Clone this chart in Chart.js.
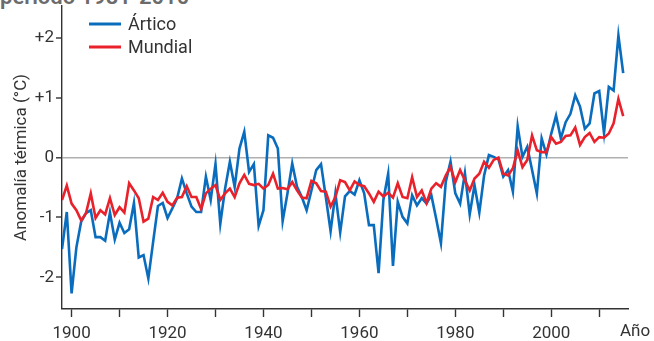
<!DOCTYPE html>
<html>
<head>
<meta charset="utf-8">
<script src="https://cdn.jsdelivr.net/npm/chart.js@4.4.1/dist/chart.umd.min.js"></script>
<style>
  html, body { margin: 0; padding: 0; background: #fff; }
  #wrap { position: relative; width: 654px; height: 341px; overflow: hidden; }
  #title { position: absolute; left: 0; top: -14px; font-family: Roboto, sans-serif; font-weight: 600; font-size: 22px; line-height: 22px; color: #6b6b6b; white-space: nowrap; }
  canvas { position: absolute; left: 0; top: 0; }
</style>
</head>
<body>
<div id="wrap">
  <div id="title">periodo 1981-2010</div>
  <canvas id="c" width="654" height="341"></canvas>
</div>
<script>
const years = [];
for (let y = 1898; y <= 2015; y++) years.push(y);

const artico = [
  -1.53, -0.91,
  -2.27, -1.50, -1.07, -0.93, -0.88, -1.33, -1.33, -1.39, -0.92, -1.37,
  -1.09, -1.26, -1.20, -0.76, -1.67, -1.63, -2.02, -1.41, -0.81, -0.76,
  -1.01, -0.85, -0.68, -0.35, -0.60, -0.82, -0.91, -0.91, -0.32, -0.71,
  -0.11, -1.11, -0.52, -0.07, -0.49, 0.15, 0.43, -0.24, -0.11, -1.14,
  -0.88, 0.37, 0.33, 0.15, -1.06, -0.60, -0.10, -0.49, -0.66, -0.88,
  -0.55, -0.21, -0.11, -0.66, -1.23, -0.60, -1.25, -0.65, -0.56, -0.62,
  -0.38, -0.60, -1.13, -1.13, -1.93, -0.71, -0.27, -1.81, -0.74, -0.99,
  -1.10, -0.63, -0.80, -0.68, -0.77, -0.63, -1.02, -1.43, -0.41, -0.07,
  -0.60, -0.77, -0.26, -0.95, -0.46, -0.92, -0.30, 0.04, 0.01, -0.03,
  -0.32, -0.21, -0.57, 0.52, 0.01, 0.18, -0.21, -0.60, 0.32, 0.05,
  0.40, 0.70, 0.32, 0.59, 0.73, 1.04, 0.85, 0.48, 0.57, 1.07,
  1.11, 0.41, 1.18, 1.12, 2.04, 1.41
];

const mundial = [
  -0.71, -0.47,
  -0.77, -0.88, -1.05, -0.93, -0.60, -1.01, -0.88, -0.95, -0.68, -0.96,
  -0.83, -0.92, -0.43, -0.55, -0.68, -1.07, -1.02, -0.66, -0.71, -0.59,
  -0.74, -0.80, -0.67, -0.66, -0.48, -0.66, -0.66, -0.86, -0.60, -0.52,
  -0.46, -0.71, -0.60, -0.52, -0.66, -0.43, -0.29, -0.44, -0.46, -0.44,
  -0.52, -0.46, -0.27, -0.52, -0.51, -0.53, -0.41, -0.55, -0.67, -0.68,
  -0.39, -0.43, -0.56, -0.57, -0.82, -0.66, -0.38, -0.41, -0.55, -0.40,
  -0.46, -0.48, -0.60, -0.74, -0.57, -0.65, -0.59, -0.67, -0.43, -0.66,
  -0.68, -0.33, -0.66, -0.55, -0.76, -0.52, -0.43, -0.49, -0.30, -0.16,
  -0.41, -0.21, -0.38, -0.55, -0.35, -0.27, -0.07, -0.17, -0.04, 0.00,
  -0.27, -0.30, -0.18, 0.12, -0.16, -0.04, 0.37, 0.12, 0.09, 0.09,
  0.34, 0.23, 0.26, 0.36, 0.37, 0.50, 0.21, 0.34, 0.41, 0.26,
  0.34, 0.33, 0.40, 0.57, 0.98, 0.69
];

const xTicks = [1900, 1910, 1920, 1930, 1940, 1950, 1960, 1970, 1980, 1990, 2000, 2010];
const xLabelled = [1900, 1920, 1940, 1960, 1980, 2000];
const yTicks = [-2, -1, 0, 1, 2];
const yTickLabels = ['-2', '-1', '0', '+1', '+2'];
const seriesNames = ['Ártico', 'Mundial'];
const xAxisLabel = 'Año';
const yAxisLabel = 'Anomalía térmica (°C)';

const BLUE = '#0a6cbd';
const RED = '#e8212b';
const AXIS = '#333333';
const FONT = 'Roboto, sans-serif';

const toPts = arr => arr.map((v, i) => ({ x: years[i], y: v }));

const overlay = {
  id: 'overlay',
  afterDraw(chart) {
    const ctx = chart.ctx;
    const area = chart.chartArea;
    ctx.save();
    const items = [[seriesNames[0], BLUE], [seriesNames[1], RED]];
    ctx.font = '18px ' + FONT;
    ctx.textBaseline = 'middle';
    ctx.textAlign = 'left';
    items.forEach((it, k) => {
      const y = 24 + k * 23;
      ctx.strokeStyle = it[1];
      ctx.lineWidth = 3;
      ctx.beginPath();
      ctx.moveTo(89, y);
      ctx.lineTo(121, y);
      ctx.stroke();
      ctx.fillStyle = '#333333';
      ctx.fillText(it[0], 128, y + 1);
    });
    ctx.font = '17px ' + FONT;
    ctx.fillStyle = '#333333';
    ctx.fillText(xAxisLabel, area.right - 8, 332);
    ctx.restore();
  }
};

new Chart(document.getElementById('c'), {
  type: 'line',
  data: {
    datasets: [
      { label: seriesNames[0], data: toPts(artico), borderColor: BLUE, borderWidth: 2.6, pointRadius: 0, tension: 0, order: 2 },
      { label: seriesNames[1], data: toPts(mundial), borderColor: RED, borderWidth: 2.6, pointRadius: 0, tension: 0, order: 1 }
    ]
  },
  options: {
    responsive: false,
    animation: false,
    devicePixelRatio: 1,
    layout: { padding: { top: 6, right: 26, left: 0, bottom: 0 } },
    plugins: { legend: { display: false }, tooltip: { enabled: false } },
    scales: {
      x: {
        type: 'linear',
        min: 1898,
        max: 2016,
        afterBuildTicks: s => { s.ticks = xTicks.map(v => ({ value: v })); },
        afterFit: s => { s.height = 32; s.paddingLeft = 0; s.paddingRight = 0; },
        border: { display: true, color: AXIS, width: 1.4 },
        grid: { display: true, drawOnChartArea: false, drawTicks: true, tickLength: 8, tickColor: AXIS, tickWidth: 1.4 },
        ticks: {
          autoSkip: false, maxRotation: 0, padding: 7,
          color: '#333333', font: { family: FONT, size: 17 },
          callback: v => xLabelled.includes(v) ? String(v) : ''
        }
      },
      y: {
        min: -2.53,
        max: 2.53,
        afterBuildTicks: s => { s.ticks = yTicks.map(v => ({ value: v })); },
        afterFit: s => { s.width = 62; s.paddingTop = 0; s.paddingBottom = 0; },
        border: { display: true, color: AXIS, width: 1.4 },
        grid: {
          display: true, drawOnChartArea: true, drawTicks: true, tickLength: 6,
          tickColor: AXIS, tickWidth: 1.4,
          color: c => (c.tick && c.tick.value === 0) ? '#b0b0b0' : 'rgba(0,0,0,0)',
          lineWidth: c => (c.tick && c.tick.value === 0) ? 1.6 : 0
        },
        ticks: {
          padding: 2, color: '#333333', font: { family: FONT, size: 17 },
          callback: v => yTickLabels[yTicks.indexOf(v)]
        },
        title: {
          display: true, text: yAxisLabel, color: '#333333',
          font: { family: FONT, size: 17 }, padding: { top: 12, bottom: 0 }
        }
      }
    }
  },
  plugins: [overlay]
});
</script>
</body>
</html>
